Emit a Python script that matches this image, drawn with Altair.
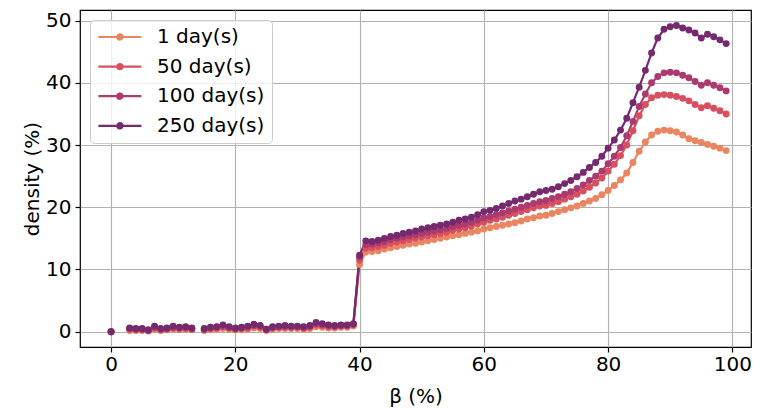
import altair as alt
import pandas as pd

series_names = ["1 day(s)", "50 day(s)", "100 day(s)", "250 day(s)"]
series_colors = ["#ea8562", "#d8505f", "#ab3b6e", "#762a6e"]

beta = list(range(100))

d1 = [0.0, None, None, 0.2, 0.2, 0.2, 0.1, 0.4, 0.2, 0.3, 0.4, 0.3, 0.4, 0.3, None,
      0.2, 0.3, 0.4, 0.5, 0.4, 0.3, 0.3, 0.4, 0.6, 0.5, 0.2, 0.4, 0.5, 0.5, 0.5,
      0.5, 0.4, 0.5, 0.8, 0.7, 0.6, 0.6, 0.7, 0.7, 0.9,
      10.8, 12.8, 12.9, 13.0, 13.3, 13.5, 13.7, 13.9, 14.1, 14.2,
      14.4, 14.6, 14.8, 15.0, 15.2, 15.4, 15.6, 15.8, 16.0, 16.2,
      16.5, 16.7, 16.9, 17.1, 17.3, 17.5, 17.8, 18.1, 18.3, 18.6,
      18.7, 19.0, 19.3, 19.6, 19.9, 20.2, 20.6, 21.0, 21.4, 22.0,
      22.7, 23.5, 24.4, 25.5, 27.2, 29.0, 30.5, 31.6, 32.2, 32.4,
      32.3, 32.1, 31.6, 31.0, 30.7, 30.4, 30.1, 29.8, 29.5, 29.1]

d50 = [0.0, None, None, 0.4, 0.3, 0.3, 0.2, 0.6, 0.3, 0.4, 0.6, 0.5, 0.5, 0.4, None,
       0.3, 0.5, 0.6, 0.8, 0.6, 0.4, 0.5, 0.6, 0.9, 0.7, 0.3, 0.6, 0.7, 0.7, 0.7,
       0.7, 0.6, 0.7, 1.1, 1.0, 0.8, 0.8, 0.9, 0.9, 1.1,
       11.5, 13.4, 13.5, 13.7, 13.9, 14.2, 14.4, 14.6, 14.8, 15.0,
       15.2, 15.4, 15.6, 15.8, 16.0, 16.3, 16.5, 16.7, 17.0, 17.3,
       17.6, 17.9, 18.1, 18.4, 18.7, 19.0, 19.3, 19.6, 19.9, 20.2,
       20.3, 20.6, 20.9, 21.3, 21.7, 22.1, 22.6, 23.2, 23.9, 24.7,
       25.8, 26.9, 28.3, 30.0, 32.3, 34.7, 36.5, 37.6, 38.0, 38.1,
       38.0, 37.8, 37.5, 37.1, 36.5, 36.0, 36.3, 35.9, 35.5, 35.0]

d100 = [0.0, None, None, 0.5, 0.4, 0.4, 0.2, 0.7, 0.4, 0.5, 0.7, 0.6, 0.7, 0.5, None,
        0.4, 0.6, 0.7, 0.9, 0.7, 0.5, 0.6, 0.8, 1.0, 0.9, 0.4, 0.7, 0.8, 0.9, 0.8,
        0.8, 0.7, 0.9, 1.3, 1.1, 1.0, 0.9, 1.0, 1.0, 1.2,
        12.0, 14.0, 14.1, 14.3, 14.5, 14.8, 15.0, 15.2, 15.4, 15.6,
        15.8, 16.0, 16.2, 16.4, 16.6, 16.9, 17.1, 17.3, 17.6, 17.9,
        18.3, 18.5, 18.8, 19.1, 19.4, 19.7, 20.0, 20.3, 20.6, 20.9,
        21.1, 21.4, 21.7, 22.1, 22.5, 23.0, 23.6, 24.3, 25.0, 25.8,
        27.0, 28.2, 29.6, 31.5, 33.8, 36.2, 38.2, 40.0, 41.0, 41.6,
        41.7, 41.6, 41.2, 40.8, 40.2, 39.6, 40.0, 39.6, 39.2, 38.7]

d250 = [0.0, None, None, 0.6, 0.5, 0.5, 0.3, 0.9, 0.5, 0.6, 0.9, 0.7, 0.8, 0.6, None,
        0.5, 0.7, 0.8, 1.1, 0.8, 0.6, 0.7, 0.9, 1.2, 1.0, 0.4, 0.8, 0.9, 1.0, 0.9,
        0.9, 0.8, 1.0, 1.5, 1.3, 1.1, 1.0, 1.1, 1.1, 1.3,
        12.3, 14.6, 14.5, 14.7, 15.0, 15.3, 15.5, 15.8, 16.0, 16.2,
        16.5, 16.7, 16.9, 17.1, 17.3, 17.6, 17.9, 18.1, 18.4, 18.8,
        19.3, 19.5, 19.8, 20.2, 20.6, 21.0, 21.3, 21.7, 22.1, 22.5,
        22.7, 22.9, 23.3, 23.8, 24.3, 24.9, 25.6, 26.4, 27.2, 28.2,
        29.5, 30.8, 32.4, 34.3, 36.8, 39.3, 42.0, 44.8, 47.2, 48.6,
        49.0, 49.2, 48.8, 48.5, 48.0, 47.2, 47.8, 47.4, 46.9, 46.3]

x_ticks = [0, 20, 40, 60, 80, 100]
y_ticks = [0, 10, 20, 30, 40, 50]

rows = []
for name, vals in zip(series_names, [d1, d50, d100, d250]):
    for b, v in zip(beta, vals):
        rows.append({"beta": b, "density": v, "series": name})
df = pd.DataFrame(rows)

FONT = "DejaVu Sans"
FS = 20

x_enc = alt.X("beta:Q", scale=alt.Scale(domain=[-5, 103], nice=False, zero=False),
              axis=alt.Axis(values=x_ticks, title="β (%)", format="d", labelPadding=2))
y_enc = alt.Y("density:Q", scale=alt.Scale(domain=[-2.46, 51.7], nice=False, zero=False),
              axis=alt.Axis(values=y_ticks, title="density (%)", format="d", labelPadding=4))
color_enc = alt.Color("series:N",
                      scale=alt.Scale(domain=series_names, range=series_colors),
                      legend=alt.Legend(title=None, orient="none", legendX=10, legendY=10,
                                        symbolType="M -1 0 L 4 0 M 1.2 0 A 0.3 0.3 0 1 1 1.8 0 A 0.3 0.3 0 1 1 1.2 0",
                                        symbolSize=296, symbolStrokeWidth=2.2,
                                        labelFontSize=FS, labelFont=FONT, labelColor="#000000",
                                        padding=7, rowPadding=9.6, labelOffset=40,
                                        strokeColor="#cccccc", fillColor="rgba(255,255,255,0.8)",
                                        cornerRadius=4))

base = alt.Chart(df)
lines = base.mark_line(strokeWidth=2.2).encode(x=x_enc, y=y_enc, color=color_enc,
                                              order=alt.Order("beta:Q"))
points = base.mark_point(filled=True, size=48, opacity=1).encode(
    x=x_enc, y=y_enc, color=color_enc)

chart = alt.layer(lines, points).properties(
    width=671, height=337,
    autosize=alt.AutoSizeParams(type="none"),
    padding={"left": 80, "top": 10, "right": 6, "bottom": 63},
).configure_view(stroke="#000000", strokeWidth=1.2).configure_axis(
    labelFont=FONT, titleFont=FONT, labelFontSize=FS, titleFontSize=FS,
    labelColor="#000000", titleColor="#000000", titleFontWeight="normal",
    domain=False, tickColor="#000000", tickSize=5, tickWidth=1.2,
    grid=True, gridColor="#b0b0b0", gridWidth=1.1,
).configure_axisX(titlePadding=12).configure_axisY(titlePadding=3)

chart.save("out.html", embed_options={"renderer": "svg", "actions": False})
